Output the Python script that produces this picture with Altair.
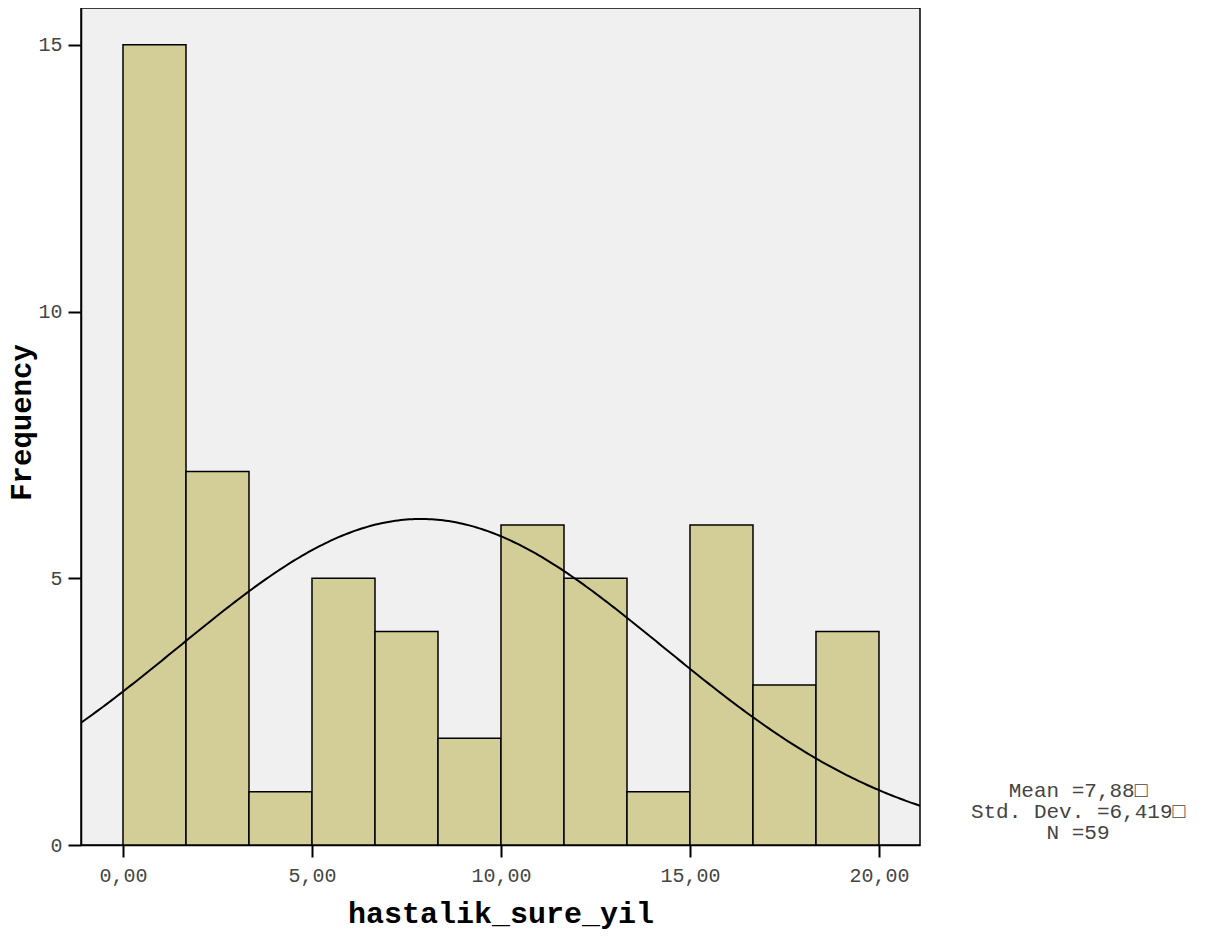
import altair as alt
import pandas as pd
import numpy as np

# Histogram data
counts = [15, 7, 1, 5, 4, 2, 6, 5, 1, 6, 3, 4]
bin_start = 0.0
bin_end = 20.0
n_bins = len(counts)

# Summary statistics shown on chart
mean_val = 7.88
sd_val = 6.419
n_val = 59
stats_lines = ["Mean =7,88\u25a1", "Std. Dev. =6,419\u25a1", "N =59"]

x_ticks = [0, 5, 10, 15, 20]
y_ticks = [0, 5, 10, 15]

x_domain = [-1.111, 21.085]
y_domain = [0, 15.69]

width_bin = (bin_end - bin_start) / n_bins
bars = pd.DataFrame({
    "x0": [bin_start + i * width_bin for i in range(n_bins)],
    "x1": [bin_start + (i + 1) * width_bin for i in range(n_bins)],
    "count": counts,
})

# Normal curve implied by the stated mean, SD and N
xs = np.linspace(x_domain[0], x_domain[1], 300)
ys = n_val * width_bin / (sd_val * np.sqrt(2 * np.pi)) * np.exp(-0.5 * ((xs - mean_val) / sd_val) ** 2)
curve = pd.DataFrame({"x": xs, "y": ys})

FONT = "Liberation Mono"
LABEL_COLOR = "#444"

xscale = alt.Scale(domain=x_domain, nice=False, zero=False)
yscale = alt.Scale(domain=y_domain, nice=False)

W, H = 839, 837

bar_layer = alt.Chart(bars).mark_rect(
    fill="#d3ce97", stroke="black", strokeWidth=1.5
).encode(
    x=alt.X("x0:Q", scale=xscale, axis=alt.Axis(
        values=x_ticks, title="hastalik_sure_yil",
        labelExpr="replace(format(datum.value, '.2f'), '.', ',')",
        grid=False, domainColor="black", domainWidth=1.5,
        tickColor="black", tickWidth=2, tickSize=12,
        labelFont=FONT, labelFontSize=20, labelColor=LABEL_COLOR, labelPadding=8,
        titleFont=FONT, titleFontSize=30, titleFontWeight="bold", titleColor="black",
        titleX=W / 2, titleY=68, titleBaseline="middle", titleAlign="center",
    )),
    x2="x1:Q",
    y=alt.Y("count:Q", scale=yscale, axis=alt.Axis(
        values=y_ticks, title="Frequency",
        grid=False, domainColor="black", domainWidth=1.5,
        tickColor="black", tickWidth=2, tickSize=13,
        labelFont=FONT, labelFontSize=20, labelColor=LABEL_COLOR, labelPadding=6,
        titleFont=FONT, titleFontSize=29, titleFontWeight="bold", titleColor="black",
        titleX=-60, titleY=414, titleAngle=-90, titleBaseline="middle", titleAlign="center",
    )),
    y2=alt.datum(0),
)

curve_layer = alt.Chart(curve).mark_line(
    color="black", strokeWidth=2, clip=True
).encode(
    x=alt.X("x:Q", scale=xscale),
    y=alt.Y("y:Q", scale=yscale),
)

stats = pd.DataFrame({"line": ["\n".join(stats_lines)]})
stats_layer = alt.Chart(stats).mark_text(
    font=FONT, fontSize=21, color=LABEL_COLOR, align="center", baseline="middle",
    lineBreak="\n", lineHeight=21
).encode(
    text="line:N",
    x=alt.value(997),
    y=alt.value(783),
)

chart = alt.layer(bar_layer, curve_layer, stats_layer).properties(
    width=W, height=H,
    autosize=alt.AutoSizeParams(type="none"),
    padding={"left": 73, "top": 0, "right": 280, "bottom": 85},
    background="white",
).configure_view(
    fill="#f0f0f0", stroke="black", strokeWidth=1.5
)

chart.save("out.html", embed_options={"renderer": "svg", "actions": False})
